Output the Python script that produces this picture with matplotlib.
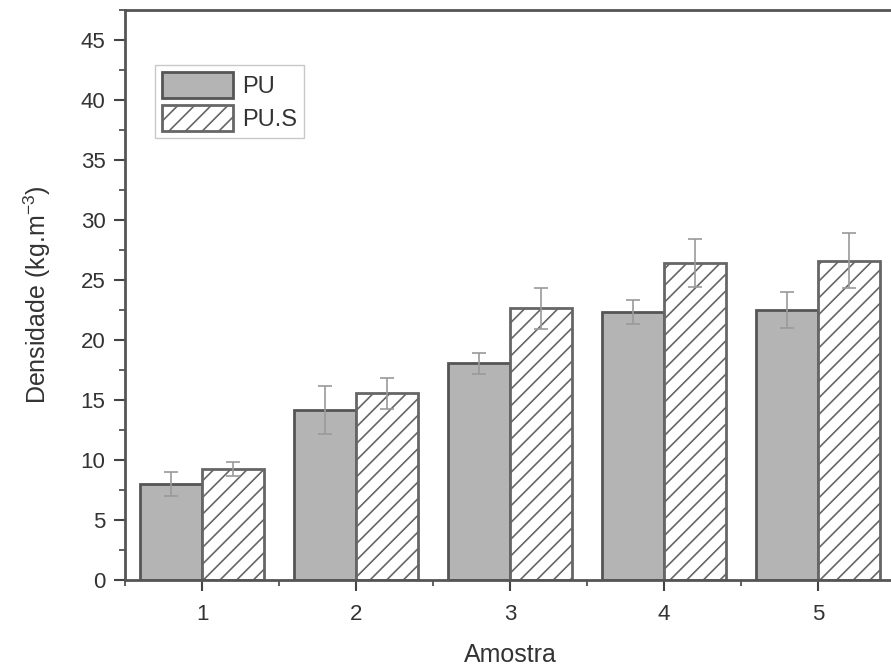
import numpy as np
import matplotlib
matplotlib.use('Agg')
import matplotlib.pyplot as plt
from matplotlib.ticker import MultipleLocator

plt.rcParams['font.family'] = ['Liberation Sans', 'DejaVu Sans']
plt.rcParams['mathtext.fontset'] = 'custom'
plt.rcParams['mathtext.rm'] = 'Liberation Sans'
plt.rcParams['hatch.color'] = '#8a8a8a'
plt.rcParams['hatch.linewidth'] = 1.2

amostras = [1, 2, 3, 4, 5]
pu = [8.0, 14.2, 18.05, 22.35, 22.5]
pu_err = [1.0, 2.0, 0.9, 1.0, 1.5]
pus = [9.25, 15.55, 22.65, 26.45, 26.6]
pus_err = [0.6, 1.3, 1.7, 2.0, 2.3]

fig = plt.figure(figsize=(8.91, 6.72), dpi=100)
ax = fig.add_axes([125 / 891, 92 / 672, 770 / 891, 570 / 672])

x = np.array(amostras)
largura = 0.4
err_kw = dict(ecolor='#9a9a9a', elinewidth=1.2, capsize=5, capthick=1.2)
ax.bar(x - largura / 2, pu, largura, yerr=pu_err, color='#b4b4b4',
       edgecolor='#555555', linewidth=2, label='PU', error_kw=err_kw)
ax.bar(x + largura / 2, pus, largura, yerr=pus_err, color='white',
       edgecolor='#666666', linewidth=2, hatch='//', label='PU.S', error_kw=err_kw)

ax.set_xlim(0.5, 5.5)
ax.set_ylim(0, 47.5)
ax.set_xticks(amostras)
ax.xaxis.set_minor_locator(MultipleLocator(0.5))
ax.yaxis.set_major_locator(MultipleLocator(5))
ax.yaxis.set_minor_locator(MultipleLocator(2.5))
ax.tick_params(axis='both', which='major', direction='out', length=8, width=1.5,
               colors='#444444', labelsize=16, labelcolor='#333333')
ax.tick_params(axis='both', which='minor', direction='out', length=4, width=1.2,
               colors='#444444')
ax.tick_params(axis='x', which='major', pad=9)
ax.tick_params(axis='y', which='major', pad=6)
for s in ax.spines.values():
    s.set_linewidth(2)
    s.set_color('#555555')

ax.set_xlabel('Amostra', fontsize=18, color='#333333', labelpad=13)
ax.set_ylabel('Densidade (kg.m$^{-3}$)', fontsize=18, color='#333333', labelpad=20)

leg = ax.legend(loc='upper left', bbox_to_anchor=(0.039, 0.9035), fontsize=17,
                frameon=True, fancybox=False, edgecolor='#bbbbbb',
                handlelength=3.0, handleheight=1.3, handletextpad=0.4,
                labelspacing=0.3, borderpad=0.3, borderaxespad=0)
for t in leg.get_texts():
    t.set_color('#333333')

fig.savefig('out.png', dpi=100)
